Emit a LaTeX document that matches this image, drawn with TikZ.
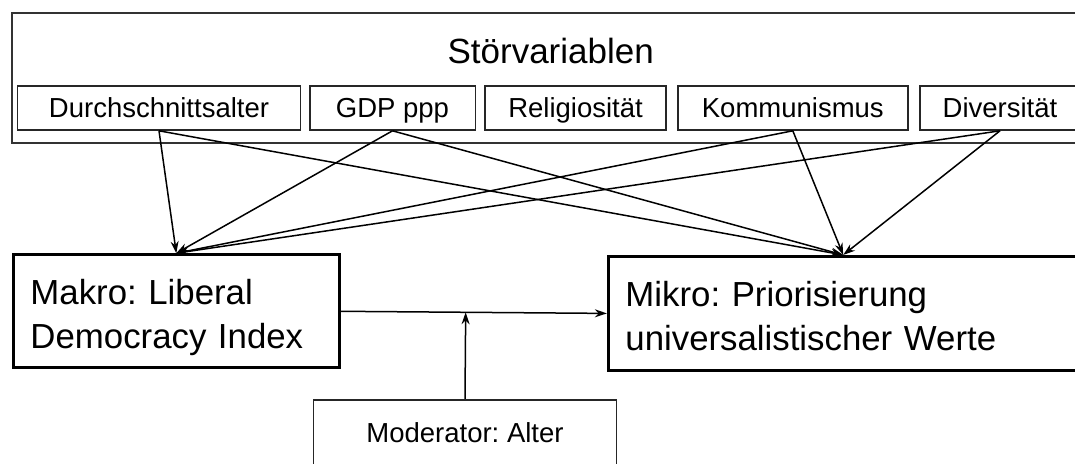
\documentclass[tikz,border=0pt]{standalone}
\usepackage{fontspec}
\setmainfont{Liberation Sans}
\usetikzlibrary{arrows.meta,calc}
\frenchspacing

\begin{document}
\begin{tikzpicture}[x=1pt,y=-1pt,
        klein/.style={draw=black!85,line width=1.6pt,inner sep=0pt,minimum height=44pt,text height=19.7pt,text depth=0pt,font=\fontsize{27.5}{33}\selectfont},
        gross/.style={draw=black,line width=3.2pt,inner xsep=17pt,inner ysep=0pt,align=left,text height=37pt,text depth=50pt,font=\fontsize{34.8}{43.3}\selectfont},
        pfeil/.style={line width=1.5pt,-{Stealth[length=12pt,width=8pt]}}]
        \useasboundingbox (0,0) rectangle (1075,463);
        \clip (0,0) rectangle (1075,463);
        \node[draw=black!80,line width=2pt,minimum width=1078pt,minimum height=130pt] (rahmen) at (551,78) {};
        \node[font=\fontsize{35}{42}\selectfont,text height=25pt,text depth=0pt] (titel) at (550.7,50.8) {Störvariablen};
        \node[klein,minimum width=283pt] (durch) at (159,108) {Durchschnittsalter};
        \node[klein,minimum width=165.6pt] (gdp) at (392.5,108) {GDP ppp};
        \node[klein,minimum width=180.5pt] (reli) at (575.5,108) {Religiosität};
        \node[klein,minimum width=230pt] (komm) at (792.8,108) {Kommunismus};
        \node[klein,minimum width=160.5pt] (div) at (1000,108) {Diversität};
        \node[gross,minimum width=325.7pt,minimum height=113pt,text width=291.7pt] (makro) at (176.3,311.3) {Makro: Liberal\\Democracy Index};
        \node[gross,minimum width=469.5pt,minimum height=113.7pt,text width=435.5pt] (mikro) at (843.2,313.4) {Mikro: Priorisierung\\universalistischer Werte};
        \node[klein,minimum width=303pt,minimum height=65.6pt] (moderator) at (465,432.5) {Moderator: Alter};
        \draw[pfeil] (durch.south) -- (makro.north);
        \draw[pfeil] (durch.south) -- (mikro.north);
        \draw[pfeil] (gdp.south) -- (makro.north);
        \draw[pfeil] (gdp.south) -- (mikro.north);
        \draw[pfeil] (komm.south) -- (makro.north);
        \draw[pfeil] (komm.south) -- (mikro.north);
        \draw[pfeil] (div.south) -- (makro.north);
        \draw[pfeil] (div.south) -- (mikro.north);
        \draw[pfeil] (makro.east) -- (mikro.west);
        \draw[pfeil] (moderator.north) -- ($(makro.east)!(moderator.north)!(mikro.west)$);
    \end{tikzpicture}
\end{document}
